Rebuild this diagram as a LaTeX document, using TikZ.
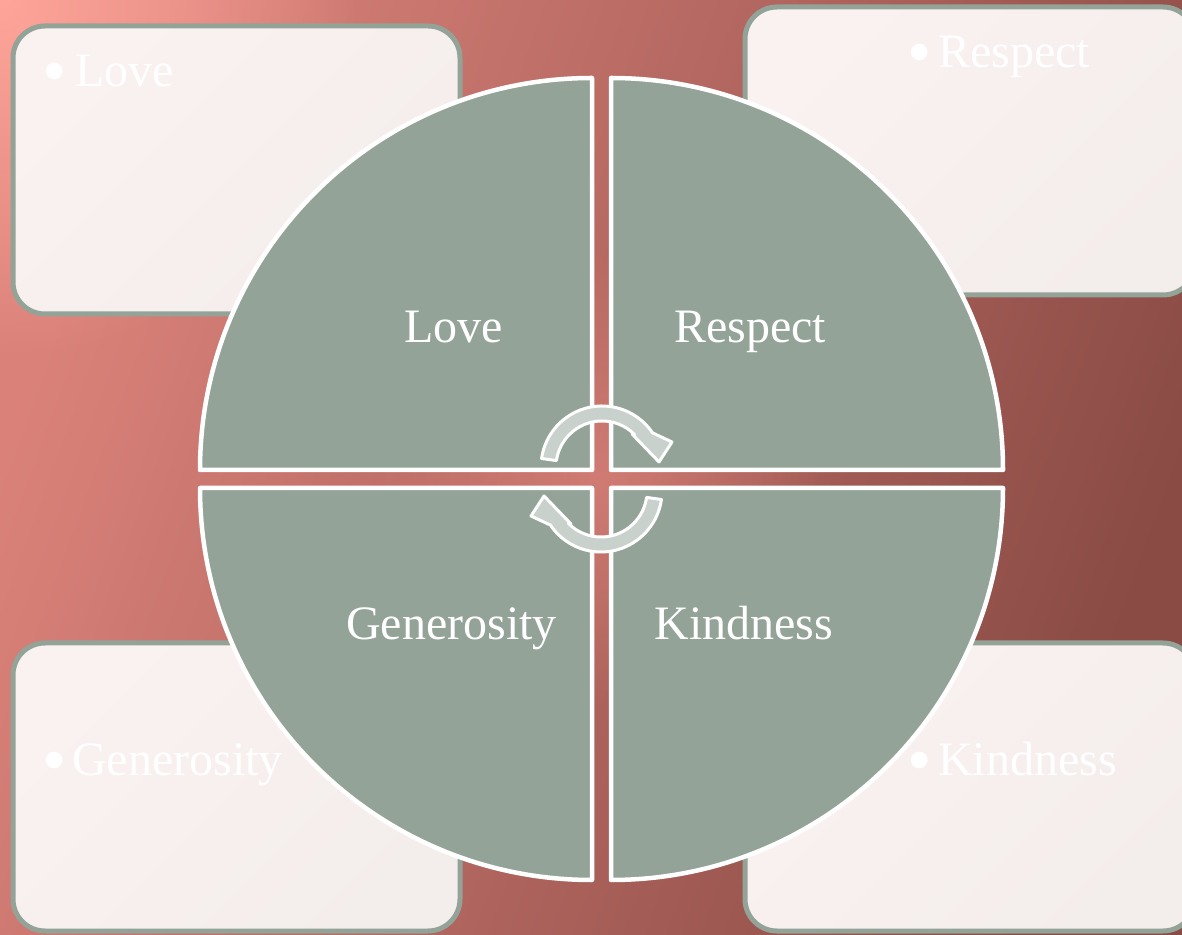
\documentclass[tikz,border=0pt]{standalone}
\usepackage{fontspec}
\setmainfont{Liberation Serif}
\usetikzlibrary{fadings}

\definecolor{sage}{HTML}{93A398}
\definecolor{sagelight}{HTML}{C9D1CC}
\definecolor{cardtop}{HTML}{FAF2F1}
\definecolor{cardbot}{HTML}{F3EDEC}
\definecolor{bgleft}{HTML}{DA827A}
\definecolor{bgright}{HTML}{8A4B45}
\definecolor{bgglow}{HTML}{FFA59A}
\definecolor{midglow}{HTML}{E58A81}

\tikzfading[name=glowfade, inner color=transparent!0, outer color=transparent!100]

\newcommand{\cardbullet}[1]{\makebox[#1][l]{\raisebox{-8pt}{\scalebox{1.45}{•}}}}

\begin{document}
\begin{tikzpicture}[x=1pt,y=1pt,
    card/.style={draw=sage, line width=5pt, rounded corners=32pt,
      top color=cardtop, bottom color=cardbot, shading angle=45},
    quad/.style={fill=sage, draw=white, line width=4.5pt, line join=round},
    turn/.style={fill=sagelight, draw=white, line width=3pt, line join=round},
    word/.style={text=white, font=\fontsize{48}{58}\selectfont, inner sep=0pt}]
    \useasboundingbox (0,0) rectangle (1182,934);
    \shade[left color=bgleft, right color=bgright, shading angle=70] (0,0) rectangle (1182,934);
    \fill[bgglow, path fading=glowfade] (0,934) circle (360);
    \fill[midglow, path fading=glowfade, opacity=0.6] (601.5,455) circle (230);

    \draw[card] (13,620) rectangle (460,908);
    \draw[card] (745,639) rectangle (1195,927);
    \draw[card] (13,3) rectangle (460,291);
    \draw[card] (745,3) rectangle (1195,291);

    \draw[quad] (592,464) -- (200,464) arc[start angle=180, end angle=90, radius=392] -- cycle;
    \draw[quad] (611,464) -- (611,856) arc[start angle=90, end angle=0, radius=392] -- cycle;
    \draw[quad] (592,446) -- (592,54) arc[start angle=270, end angle=180, radius=392] -- cycle;
    \draw[quad] (611,446) -- (1003,446) arc[start angle=0, end angle=-90, radius=392] -- cycle;

    \draw[turn, shift={(602,467)}] (172:61) arc[start angle=172, end angle=34, radius=61]
      -- (70,25) -- (57,5) -- (30,33) -- (45:46) arc[start angle=45, end angle=172, radius=46] -- cycle;
    \draw[turn, rotate around={180:(601.5,455)}, shift={(602,467)}] (172:61) arc[start angle=172, end angle=34, radius=61]
      -- (70,25) -- (57,5) -- (30,33) -- (45:46) arc[start angle=45, end angle=172, radius=46] -- cycle;

    \node[word, anchor=base] (love) at (453.5,591) {Love};
    \node[word, anchor=base] (respect) at (750,591) {Respect};
    \node[word, anchor=base] (generosity) at (451.5,294) {Generosity};
    \node[word, anchor=base] (kindness) at (744,294) {Kindness};

    \node[word, anchor=base west] (noteLove) at (42,847) {\cardbullet{33pt}Love};
    \node[word, anchor=base west] (noteRespect) at (907,866) {\cardbullet{31pt}Respect};
    \node[word, anchor=base west] (noteGenerosity) at (42,159) {\cardbullet{30pt}Generosity};
    \node[word, anchor=base west] (noteKindness) at (907,159) {\cardbullet{31pt}Kindness};
\end{tikzpicture}
\end{document}
